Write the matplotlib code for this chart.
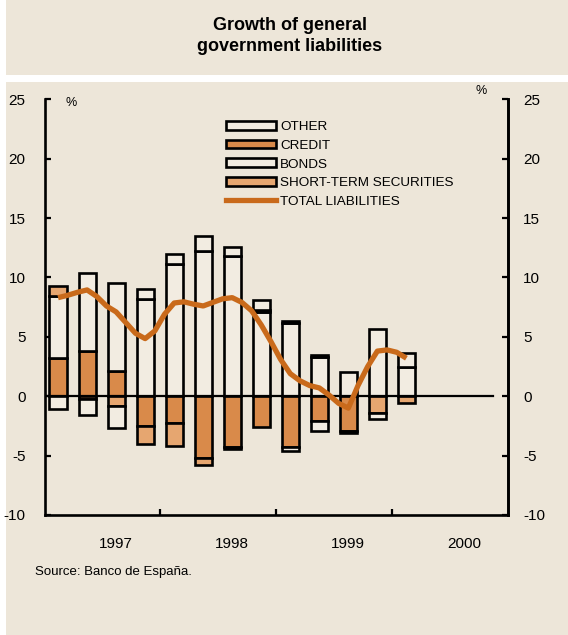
import matplotlib
matplotlib.use('Agg')
from matplotlib import pyplot as plt
from matplotlib.patches import Patch, Rectangle
from matplotlib.lines import Line2D
import numpy as np

plt.rcParams['font.family'] = ['Liberation Sans', 'DejaVu Sans']
plt.rcParams['axes.unicode_minus'] = False

# quarterly contributions, 1997 Q1 .. 2000 Q1
credit = [3.2, 3.8, 2.1, -2.5, -2.25, -5.2, -4.3, -2.6, -4.25, -2.1, -2.9, 0, 0]
short_term = [0.9, -0.25, -0.8, -1.5, -1.9, -0.55, -0.15, 0.2, 0.1, 0.15, -0.2, -1.45, -0.6]
bonds = [5.2, 6.6, 7.4, 8.2, 11.1, 12.2, 11.8, 7.1, 6.2, 3.3, 2.05, 5.65, 2.5]
other = [-1.1, -1.35, -1.85, 0.8, 0.85, 1.3, 0.8, 0.8, -0.4, -0.8, 0, -0.5, 1.15]

# monthly total, Jan 1997 .. Jan 2000
total = [8.3, 8.5, 8.75, 8.95, 8.4, 7.6, 7.1, 6.2, 5.3, 4.85, 5.5, 6.9,
         7.85, 7.95, 7.75, 7.6, 7.9, 8.2, 8.3, 7.9, 7.2, 6.0, 4.6, 3.1,
         1.9, 1.3, 0.9, 0.7, 0.1, -0.6, -1.0, 0.9, 2.5, 3.8, 3.9, 3.7, 3.2]

years = ['1997', '1998', '1999', '2000']

bg = '#EDE6D9'
light = '#F2ECE1'
c_credit = '#D98A4A'
c_short = '#E6A670'
c_line = '#C96A1B'

fig = plt.figure(figsize=(5.68, 6.35), dpi=100, facecolor='white')
W, H = 568.0, 635.0
fig.add_artist(Rectangle((6 / W, 1 - 75 / H), 1, 75 / H, transform=fig.transFigure,
                         facecolor=bg, edgecolor='none', zorder=-5))
fig.add_artist(Rectangle((6 / W, 0), 1, 1 - 82 / H, transform=fig.transFigure,
                         facecolor=bg, edgecolor='none', zorder=-5))

fig.text(290 / W, 1 - 36 / H, 'Growth of general\ngovernment liabilities', ha='center', va='center',
         fontsize=13, fontweight='bold', linespacing=1.25)

ax = fig.add_axes([45 / W, 1 - 515 / H, (508 - 45) / W, (515 - 99.3) / H])
ax.set_facecolor('none')

x = np.arange(len(credit))
series = {'credit': (credit, c_credit), 'short': (short_term, c_short),
          'bonds': (bonds, light), 'other': (other, light)}
pos_order = ['credit', 'bonds', 'short', 'other']
neg_order = ['credit', 'short', 'bonds', 'other']
pos_base = np.zeros(len(x))
neg_base = np.zeros(len(x))
for name in pos_order:
    vals, col = series[name]
    for i, v in enumerate(vals):
        if v > 0:
            ax.bar(x[i], v, 0.59, bottom=pos_base[i], color=col, edgecolor='black', lw=1.9, zorder=2)
            pos_base[i] += v
for name in neg_order:
    vals, col = series[name]
    for i, v in enumerate(vals):
        if v < 0:
            ax.bar(x[i], v, 0.59, bottom=neg_base[i], color=col, edgecolor='black', lw=1.9, zorder=2)
            neg_base[i] += v

ax.plot([-0.45, 15], [0, 0], color='black', lw=1.6, zorder=3)
ax.plot(np.arange(len(total)) / 3, total, color=c_line, lw=3.8, zorder=4, solid_capstyle='butt')

ax.set_xlim(-0.45, 15.5)
ax.set_ylim(-10, 25)
for s in ['top']:
    ax.spines[s].set_visible(False)
for s in ['left', 'right', 'bottom']:
    ax.spines[s].set_linewidth(1.9)
ax.set_yticks(range(-10, 30, 5))
ax.set_xticks([3.5, 7.5, 11.5])
ax.set_xticklabels([])
ax.set_xticks([2, 6, 10, 14], minor=True)
ax.set_xticklabels(years, minor=True)
ax.tick_params(axis='x', which='major', direction='in', length=4, width=1.6)
ax.tick_params(axis='x', which='minor', length=0, pad=16, labelsize=11)
ax.tick_params(axis='y', direction='in', length=4, width=1.6, pad=14, labelsize=11)

ax2 = ax.twinx()
ax2.set_ylim(-10, 25)
ax2.set_yticks(range(-10, 30, 5))
for s in ['top', 'left', 'bottom']:
    ax2.spines[s].set_visible(False)
ax2.spines['right'].set_linewidth(1.9)
ax2.tick_params(axis='y', direction='in', length=4, width=1.6, pad=11, labelsize=11)

fig.text(71 / W, 1 - 103 / H, '%', ha='center', va='center', fontsize=9)
fig.text(481 / W, 1 - 91 / H, '%', ha='center', va='center', fontsize=9)

handles = [Patch(facecolor=light, edgecolor='black', lw=1.9),
           Patch(facecolor=c_credit, edgecolor='black', lw=1.9),
           Patch(facecolor=light, edgecolor='black', lw=1.9),
           Patch(facecolor=c_short, edgecolor='black', lw=1.9),
           Line2D([], [], color=c_line, lw=3.8)]
labels = ['OTHER', 'CREDIT', 'BONDS', 'SHORT-TERM SECURITIES', 'TOTAL LIABILITIES']
ax.legend(handles, labels, loc='upper left', bbox_to_anchor=(226 / W, 1 - 121 / H),
          bbox_transform=fig.transFigure, frameon=False, fontsize=9.7, borderpad=0,
          borderaxespad=0, handlelength=3.7, handleheight=0.62, handletextpad=0.3,
          labelspacing=0.49)

fig.text(35 / W, 1 - 572 / H, 'Source: Banco de España.', ha='left', va='center', fontsize=9.5)

fig.savefig('out.png', dpi=100, facecolor=fig.get_facecolor())
